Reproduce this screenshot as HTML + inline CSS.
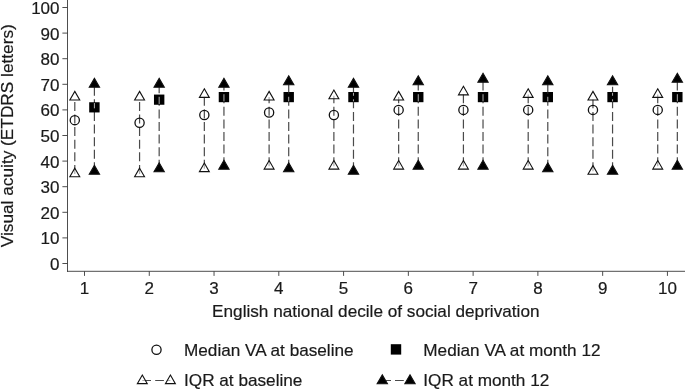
<!DOCTYPE html>
<html><head><meta charset="utf-8"><title>Chart</title>
<style>
html,body{margin:0;padding:0;background:#fff}
svg{display:block;will-change:transform}
text{font-family:"Liberation Sans",Arial,sans-serif;font-size:17.18px;fill:#1a1a1a;stroke:#1a1a1a;stroke-width:0.2px}
.t{font-size:17px}
</style></head><body>
<svg width="685" height="389" viewBox="0 0 685 389">
<rect width="685" height="389" fill="#fff"/>

<path d="M67.5 0 V271.8 M67 271.3 H685" stroke="#3a3a3a" stroke-width="0.9" fill="none"/>
<path d="M62.4 263.50 H67.5" stroke="#3a3a3a" stroke-width="0.9"/>
<text class="t" x="59.5" y="269.90" text-anchor="end">0</text>
<path d="M62.4 237.90 H67.5" stroke="#3a3a3a" stroke-width="0.9"/>
<text class="t" x="59.5" y="244.30" text-anchor="end">10</text>
<path d="M62.4 212.30 H67.5" stroke="#3a3a3a" stroke-width="0.9"/>
<text class="t" x="59.5" y="218.70" text-anchor="end">20</text>
<path d="M62.4 186.70 H67.5" stroke="#3a3a3a" stroke-width="0.9"/>
<text class="t" x="59.5" y="193.10" text-anchor="end">30</text>
<path d="M62.4 161.10 H67.5" stroke="#3a3a3a" stroke-width="0.9"/>
<text class="t" x="59.5" y="167.50" text-anchor="end">40</text>
<path d="M62.4 135.50 H67.5" stroke="#3a3a3a" stroke-width="0.9"/>
<text class="t" x="59.5" y="141.90" text-anchor="end">50</text>
<path d="M62.4 109.90 H67.5" stroke="#3a3a3a" stroke-width="0.9"/>
<text class="t" x="59.5" y="116.30" text-anchor="end">60</text>
<path d="M62.4 84.30 H67.5" stroke="#3a3a3a" stroke-width="0.9"/>
<text class="t" x="59.5" y="90.70" text-anchor="end">70</text>
<path d="M62.4 58.70 H67.5" stroke="#3a3a3a" stroke-width="0.9"/>
<text class="t" x="59.5" y="65.10" text-anchor="end">80</text>
<path d="M62.4 33.10 H67.5" stroke="#3a3a3a" stroke-width="0.9"/>
<text class="t" x="59.5" y="39.50" text-anchor="end">90</text>
<path d="M62.4 7.50 H67.5" stroke="#3a3a3a" stroke-width="0.9"/>
<text class="t" x="59.5" y="13.90" text-anchor="end">100</text>
<path d="M84.50 271.3 V275.9" stroke="#3a3a3a" stroke-width="0.9"/>
<text class="t" x="84.50" y="294" text-anchor="middle">1</text>
<path d="M149.27 271.3 V275.9" stroke="#3a3a3a" stroke-width="0.9"/>
<text class="t" x="149.27" y="294" text-anchor="middle">2</text>
<path d="M214.04 271.3 V275.9" stroke="#3a3a3a" stroke-width="0.9"/>
<text class="t" x="214.04" y="294" text-anchor="middle">3</text>
<path d="M278.81 271.3 V275.9" stroke="#3a3a3a" stroke-width="0.9"/>
<text class="t" x="278.81" y="294" text-anchor="middle">4</text>
<path d="M343.58 271.3 V275.9" stroke="#3a3a3a" stroke-width="0.9"/>
<text class="t" x="343.58" y="294" text-anchor="middle">5</text>
<path d="M408.35 271.3 V275.9" stroke="#3a3a3a" stroke-width="0.9"/>
<text class="t" x="408.35" y="294" text-anchor="middle">6</text>
<path d="M473.12 271.3 V275.9" stroke="#3a3a3a" stroke-width="0.9"/>
<text class="t" x="473.12" y="294" text-anchor="middle">7</text>
<path d="M537.89 271.3 V275.9" stroke="#3a3a3a" stroke-width="0.9"/>
<text class="t" x="537.89" y="294" text-anchor="middle">8</text>
<path d="M602.66 271.3 V275.9" stroke="#3a3a3a" stroke-width="0.9"/>
<text class="t" x="602.66" y="294" text-anchor="middle">9</text>
<path d="M667.43 271.3 V275.9" stroke="#3a3a3a" stroke-width="0.9"/>
<text class="t" x="667.43" y="294" text-anchor="middle">10</text>
<text transform="translate(13 135.7) rotate(-90)" text-anchor="middle" style="font-size:17.25px">Visual acuity (ETDRS letters)</text>
<text x="375.8" y="316.9" text-anchor="middle">English national decile of social deprivation</text>
<path d="M74.80 173.90 V98.30" stroke="#4a4a4a" stroke-width="1.2" stroke-dasharray="9.0 3.6" fill="none"/>
<path d="M94.40 171.34 V84.30" stroke="#4a4a4a" stroke-width="1.2" stroke-dasharray="9.0 3.6" fill="none"/>
<path d="M74.80 91.38 L79.75 99.96 L69.85 99.96 Z" fill="#fff" fill-opacity="0.55" stroke="#111" stroke-width="1.1" stroke-linejoin="miter"/>
<path d="M74.80 168.18 L79.75 176.76 L69.85 176.76 Z" fill="#fff" fill-opacity="0.55" stroke="#111" stroke-width="1.1" stroke-linejoin="miter"/>
<path d="M94.40 78.35 L99.55 87.27 L89.25 87.27 Z" fill="#000" stroke="#111" stroke-width="1.1" stroke-linejoin="miter"/>
<path d="M94.40 165.39 L99.55 174.31 L89.25 174.31 Z" fill="#000" stroke="#111" stroke-width="1.1" stroke-linejoin="miter"/>
<circle cx="74.80" cy="120.14" r="4.6" fill="none" stroke="#111" stroke-width="1.3"/>
<rect x="89.20" y="102.24" width="10.4" height="10.2" fill="#000"/><path d="M94.40 103.04 V108.34" stroke="#b0b0b0" stroke-width="1"/>
<path d="M139.57 173.90 V98.30" stroke="#4a4a4a" stroke-width="1.2" stroke-dasharray="9.0 3.6" fill="none"/>
<path d="M159.17 168.78 V84.30" stroke="#4a4a4a" stroke-width="1.2" stroke-dasharray="9.0 3.6" fill="none"/>
<path d="M139.57 91.38 L144.52 99.96 L134.62 99.96 Z" fill="#fff" fill-opacity="0.55" stroke="#111" stroke-width="1.1" stroke-linejoin="miter"/>
<path d="M139.57 168.18 L144.52 176.76 L134.62 176.76 Z" fill="#fff" fill-opacity="0.55" stroke="#111" stroke-width="1.1" stroke-linejoin="miter"/>
<path d="M159.17 78.35 L164.32 87.27 L154.02 87.27 Z" fill="#000" stroke="#111" stroke-width="1.1" stroke-linejoin="miter"/>
<path d="M159.17 162.83 L164.32 171.75 L154.02 171.75 Z" fill="#000" stroke="#111" stroke-width="1.1" stroke-linejoin="miter"/>
<circle cx="139.57" cy="122.70" r="4.6" fill="none" stroke="#111" stroke-width="1.3"/>
<rect x="153.97" y="94.56" width="10.4" height="10.2" fill="#000"/><path d="M159.17 96.78 V103.96" stroke="#b0b0b0" stroke-width="1"/>
<path d="M204.34 168.78 V94.54" stroke="#4a4a4a" stroke-width="1.2" stroke-dasharray="9.0 3.6" fill="none"/>
<path d="M223.94 166.22 V84.30" stroke="#4a4a4a" stroke-width="1.2" stroke-dasharray="9.0 3.6" fill="none"/>
<path d="M204.34 88.82 L209.29 97.40 L199.39 97.40 Z" fill="#fff" fill-opacity="0.55" stroke="#111" stroke-width="1.1" stroke-linejoin="miter"/>
<path d="M204.34 163.06 L209.29 171.64 L199.39 171.64 Z" fill="#fff" fill-opacity="0.55" stroke="#111" stroke-width="1.1" stroke-linejoin="miter"/>
<path d="M223.94 78.35 L229.09 87.27 L218.79 87.27 Z" fill="#000" stroke="#111" stroke-width="1.1" stroke-linejoin="miter"/>
<path d="M223.94 160.27 L229.09 169.19 L218.79 169.19 Z" fill="#000" stroke="#111" stroke-width="1.1" stroke-linejoin="miter"/>
<circle cx="204.34" cy="115.02" r="4.6" fill="none" stroke="#111" stroke-width="1.3"/>
<rect x="218.74" y="92.00" width="10.4" height="10.2" fill="#000"/><path d="M223.94 94.22 V101.40" stroke="#b0b0b0" stroke-width="1"/>
<path d="M269.11 166.22 V97.10" stroke="#4a4a4a" stroke-width="1.2" stroke-dasharray="9.0 3.6" fill="none"/>
<path d="M288.71 168.78 V81.74" stroke="#4a4a4a" stroke-width="1.2" stroke-dasharray="9.0 3.6" fill="none"/>
<path d="M269.11 91.38 L274.06 99.96 L264.16 99.96 Z" fill="#fff" fill-opacity="0.55" stroke="#111" stroke-width="1.1" stroke-linejoin="miter"/>
<path d="M269.11 160.50 L274.06 169.08 L264.16 169.08 Z" fill="#fff" fill-opacity="0.55" stroke="#111" stroke-width="1.1" stroke-linejoin="miter"/>
<path d="M288.71 75.79 L293.86 84.71 L283.56 84.71 Z" fill="#000" stroke="#111" stroke-width="1.1" stroke-linejoin="miter"/>
<path d="M288.71 162.83 L293.86 171.75 L283.56 171.75 Z" fill="#000" stroke="#111" stroke-width="1.1" stroke-linejoin="miter"/>
<circle cx="269.11" cy="112.46" r="4.6" fill="none" stroke="#111" stroke-width="1.3"/>
<rect x="283.51" y="92.00" width="10.4" height="10.2" fill="#000"/><path d="M288.71 96.78 V101.40" stroke="#b0b0b0" stroke-width="1"/><path d="M288.71 92.80 V93.18" stroke="#b0b0b0" stroke-width="1"/>
<path d="M333.88 166.22 V95.82" stroke="#4a4a4a" stroke-width="1.2" stroke-dasharray="9.0 3.6" fill="none"/>
<path d="M353.48 171.34 V84.30" stroke="#4a4a4a" stroke-width="1.2" stroke-dasharray="9.0 3.6" fill="none"/>
<path d="M333.88 90.10 L338.83 98.68 L328.93 98.68 Z" fill="#fff" fill-opacity="0.55" stroke="#111" stroke-width="1.1" stroke-linejoin="miter"/>
<path d="M333.88 160.50 L338.83 169.08 L328.93 169.08 Z" fill="#fff" fill-opacity="0.55" stroke="#111" stroke-width="1.1" stroke-linejoin="miter"/>
<path d="M353.48 78.35 L358.63 87.27 L348.33 87.27 Z" fill="#000" stroke="#111" stroke-width="1.1" stroke-linejoin="miter"/>
<path d="M353.48 165.39 L358.63 174.31 L348.33 174.31 Z" fill="#000" stroke="#111" stroke-width="1.1" stroke-linejoin="miter"/>
<circle cx="333.88" cy="115.02" r="4.6" fill="none" stroke="#111" stroke-width="1.3"/>
<rect x="348.28" y="92.00" width="10.4" height="10.2" fill="#000"/><path d="M353.48 99.34 V101.40" stroke="#b0b0b0" stroke-width="1"/><path d="M353.48 92.80 V95.74" stroke="#b0b0b0" stroke-width="1"/>
<path d="M398.65 166.22 V97.10" stroke="#4a4a4a" stroke-width="1.2" stroke-dasharray="9.0 3.6" fill="none"/>
<path d="M418.25 166.22 V81.74" stroke="#4a4a4a" stroke-width="1.2" stroke-dasharray="9.0 3.6" fill="none"/>
<path d="M398.65 91.38 L403.60 99.96 L393.70 99.96 Z" fill="#fff" fill-opacity="0.55" stroke="#111" stroke-width="1.1" stroke-linejoin="miter"/>
<path d="M398.65 160.50 L403.60 169.08 L393.70 169.08 Z" fill="#fff" fill-opacity="0.55" stroke="#111" stroke-width="1.1" stroke-linejoin="miter"/>
<path d="M418.25 75.79 L423.40 84.71 L413.10 84.71 Z" fill="#000" stroke="#111" stroke-width="1.1" stroke-linejoin="miter"/>
<path d="M418.25 160.27 L423.40 169.19 L413.10 169.19 Z" fill="#000" stroke="#111" stroke-width="1.1" stroke-linejoin="miter"/>
<circle cx="398.65" cy="109.90" r="4.6" fill="none" stroke="#111" stroke-width="1.3"/>
<rect x="413.05" y="92.00" width="10.4" height="10.2" fill="#000"/><path d="M418.25 94.22 V101.40" stroke="#b0b0b0" stroke-width="1"/>
<path d="M463.42 166.22 V91.98" stroke="#4a4a4a" stroke-width="1.2" stroke-dasharray="9.0 3.6" fill="none"/>
<path d="M483.02 166.22 V79.18" stroke="#4a4a4a" stroke-width="1.2" stroke-dasharray="9.0 3.6" fill="none"/>
<path d="M463.42 86.26 L468.37 94.84 L458.47 94.84 Z" fill="#fff" fill-opacity="0.55" stroke="#111" stroke-width="1.1" stroke-linejoin="miter"/>
<path d="M463.42 160.50 L468.37 169.08 L458.47 169.08 Z" fill="#fff" fill-opacity="0.55" stroke="#111" stroke-width="1.1" stroke-linejoin="miter"/>
<path d="M483.02 73.23 L488.17 82.15 L477.87 82.15 Z" fill="#000" stroke="#111" stroke-width="1.1" stroke-linejoin="miter"/>
<path d="M483.02 160.27 L488.17 169.19 L477.87 169.19 Z" fill="#000" stroke="#111" stroke-width="1.1" stroke-linejoin="miter"/>
<circle cx="463.42" cy="109.90" r="4.6" fill="none" stroke="#111" stroke-width="1.3"/>
<rect x="477.82" y="92.00" width="10.4" height="10.2" fill="#000"/><path d="M483.02 94.22 V101.40" stroke="#b0b0b0" stroke-width="1"/>
<path d="M528.19 166.22 V94.54" stroke="#4a4a4a" stroke-width="1.2" stroke-dasharray="9.0 3.6" fill="none"/>
<path d="M547.79 168.78 V81.74" stroke="#4a4a4a" stroke-width="1.2" stroke-dasharray="9.0 3.6" fill="none"/>
<path d="M528.19 88.82 L533.14 97.40 L523.24 97.40 Z" fill="#fff" fill-opacity="0.55" stroke="#111" stroke-width="1.1" stroke-linejoin="miter"/>
<path d="M528.19 160.50 L533.14 169.08 L523.24 169.08 Z" fill="#fff" fill-opacity="0.55" stroke="#111" stroke-width="1.1" stroke-linejoin="miter"/>
<path d="M547.79 75.79 L552.94 84.71 L542.64 84.71 Z" fill="#000" stroke="#111" stroke-width="1.1" stroke-linejoin="miter"/>
<path d="M547.79 162.83 L552.94 171.75 L542.64 171.75 Z" fill="#000" stroke="#111" stroke-width="1.1" stroke-linejoin="miter"/>
<circle cx="528.19" cy="109.90" r="4.6" fill="none" stroke="#111" stroke-width="1.3"/>
<rect x="542.59" y="92.00" width="10.4" height="10.2" fill="#000"/><path d="M547.79 96.78 V101.40" stroke="#b0b0b0" stroke-width="1"/><path d="M547.79 92.80 V93.18" stroke="#b0b0b0" stroke-width="1"/>
<path d="M592.96 171.34 V97.10" stroke="#4a4a4a" stroke-width="1.2" stroke-dasharray="9.0 3.6" fill="none"/>
<path d="M612.56 171.34 V83.14" stroke="#4a4a4a" stroke-width="1.2" stroke-dasharray="9.0 3.6" fill="none"/>
<path d="M592.96 91.38 L597.91 99.96 L588.01 99.96 Z" fill="#fff" fill-opacity="0.55" stroke="#111" stroke-width="1.1" stroke-linejoin="miter"/>
<path d="M592.96 165.62 L597.91 174.20 L588.01 174.20 Z" fill="#fff" fill-opacity="0.55" stroke="#111" stroke-width="1.1" stroke-linejoin="miter"/>
<path d="M612.56 75.79 L617.71 84.71 L607.41 84.71 Z" fill="#000" stroke="#111" stroke-width="1.1" stroke-linejoin="miter"/>
<path d="M612.56 165.39 L617.71 174.31 L607.41 174.31 Z" fill="#000" stroke="#111" stroke-width="1.1" stroke-linejoin="miter"/>
<circle cx="592.96" cy="109.90" r="4.6" fill="none" stroke="#111" stroke-width="1.3"/>
<rect x="607.36" y="92.00" width="10.4" height="10.2" fill="#000"/><path d="M612.56 99.34 V101.40" stroke="#b0b0b0" stroke-width="1"/><path d="M612.56 92.80 V95.74" stroke="#b0b0b0" stroke-width="1"/>
<path d="M657.73 166.22 V94.54" stroke="#4a4a4a" stroke-width="1.2" stroke-dasharray="9.0 3.6" fill="none"/>
<path d="M677.33 166.22 V79.18" stroke="#4a4a4a" stroke-width="1.2" stroke-dasharray="9.0 3.6" fill="none"/>
<path d="M657.73 88.82 L662.68 97.40 L652.78 97.40 Z" fill="#fff" fill-opacity="0.55" stroke="#111" stroke-width="1.1" stroke-linejoin="miter"/>
<path d="M657.73 160.50 L662.68 169.08 L652.78 169.08 Z" fill="#fff" fill-opacity="0.55" stroke="#111" stroke-width="1.1" stroke-linejoin="miter"/>
<path d="M677.33 73.23 L682.48 82.15 L672.18 82.15 Z" fill="#000" stroke="#111" stroke-width="1.1" stroke-linejoin="miter"/>
<path d="M677.33 160.27 L682.48 169.19 L672.18 169.19 Z" fill="#000" stroke="#111" stroke-width="1.1" stroke-linejoin="miter"/>
<circle cx="657.73" cy="109.90" r="4.6" fill="none" stroke="#111" stroke-width="1.3"/>
<rect x="672.13" y="92.00" width="10.4" height="10.2" fill="#000"/><path d="M677.33 94.22 V101.40" stroke="#b0b0b0" stroke-width="1"/>
<circle cx="156.50" cy="349.70" r="4.6" fill="none" stroke="#111" stroke-width="1.3"/>
<text x="184" y="355.9">Median VA at baseline</text>
<rect x="390.8" y="344.2" width="10.4" height="10.4" fill="#000"/>
<text x="423.3" y="355.9">Median VA at month 12</text>
<path d="M142.3 380.5 H151 M155.2 380.5 H163.9 M167.8 380.5 H170.4" stroke="#4a4a4a" stroke-width="1.2"/>
<path d="M142.30 375.08 L147.25 383.66 L137.35 383.66 Z" fill="#fff" fill-opacity="0.55" stroke="#111" stroke-width="1.1" stroke-linejoin="miter"/>
<path d="M170.40 375.08 L175.35 383.66 L165.45 383.66 Z" fill="#fff" fill-opacity="0.55" stroke="#111" stroke-width="1.1" stroke-linejoin="miter"/>
<text x="184" y="385.6">IQR at baseline</text>
<path d="M382.3 380.5 H391 M395 380.5 H403.8 M407.5 380.5 H410" stroke="#4a4a4a" stroke-width="1.2"/>
<path d="M382.30 374.85 L387.45 383.77 L377.15 383.77 Z" fill="#000" stroke="#111" stroke-width="1.1" stroke-linejoin="miter"/>
<path d="M410.00 374.85 L415.15 383.77 L404.85 383.77 Z" fill="#000" stroke="#111" stroke-width="1.1" stroke-linejoin="miter"/>
<text x="423.3" y="385.6">IQR at month 12</text>
</svg></body></html>
